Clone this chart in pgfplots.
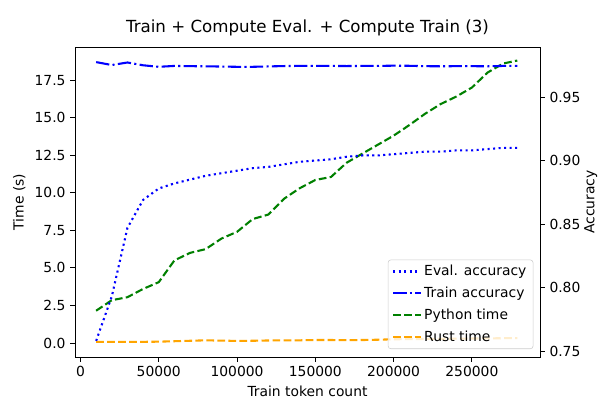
\documentclass[border=0pt]{standalone}
\usepackage{pgfplots}
\pgfplotsset{compat=1.18}
\usepackage{pgfplotstable}
\usepackage{fontspec}
\setmainfont{DejaVu Sans}
\definecolor{mplblue}{RGB}{0,0,255}
\definecolor{mplgreen}{RGB}{0,128,0}
\definecolor{mplorange}{RGB}{255,165,0}

\pgfplotstableread{
x acceval acctrain py rust
10000 0.758 0.9775 2.15 0.08
20000 0.793 0.9752 2.85 0.08
30000 0.847 0.9772 3.05 0.08
40000 0.869 0.9750 3.60 0.08
50000 0.878 0.9738 4.05 0.09
60000 0.882 0.9745 5.50 0.12
70000 0.885 0.9743 6.00 0.15
80000 0.888 0.9742 6.25 0.18
90000 0.890 0.9740 6.95 0.16
100000 0.892 0.9738 7.40 0.14
110000 0.894 0.9738 8.25 0.15
120000 0.895 0.9741 8.55 0.17
130000 0.897 0.9744 9.60 0.18
140000 0.899 0.9745 10.30 0.18
150000 0.900 0.9746 10.85 0.20
160000 0.901 0.9745 11.05 0.20
170000 0.903 0.9744 12.00 0.19
180000 0.904 0.9745 12.60 0.20
190000 0.904 0.9745 13.20 0.22
200000 0.905 0.9747 13.80 0.25
210000 0.906 0.9746 14.50 0.26
220000 0.907 0.9743 15.25 0.27
230000 0.907 0.9742 15.90 0.28
240000 0.908 0.9743 16.40 0.29
250000 0.908 0.9743 17.00 0.30
260000 0.909 0.9742 18.00 0.31
270000 0.910 0.9745 18.60 0.32
279000 0.910 0.9745 18.80 0.33
}\datatable

\pgfplotsset{
  common/.style={
    scale only axis, width=348.75pt, height=232.5pt,
    at={(0,0)}, anchor=south west,
    xmin=-3500, xmax=293500,
    tick align=outside, major tick length=3.6pt,
    tick style={black, line width=0.6pt},
    axis line style={line width=0.6pt},
    /pgf/number format/assume math mode=true,
    tick label style={font=\fontsize{10.4}{12}\selectfont},
    label style={font=\fontsize{10.4}{12}\selectfont},
    scaled ticks=false,
  },
  dotline/.style={line width=1.56pt, dash pattern=on 1.56pt off 2.57pt},
  dashline/.style={line width=1.56pt, dash pattern=on 5.77pt off 2.5pt},
  dashdotline/.style={line width=1.56pt, dash pattern=on 10pt off 2.5pt on 1.56pt off 2.5pt},
}

\begin{document}
\begin{tikzpicture}
\useasboundingbox (-56.25pt,-32.25pt) rectangle (393.75pt,267.75pt);
\begin{axis}[common,
  ymin=-0.93, ymax=19.7,
  xtick={0,50000,100000,150000,200000,250000},
  xticklabel style={/pgf/number format/.cd, fixed, set thousands separator={}},
  ytick={0,2.5,5,7.5,10,12.5,15,17.5},
  yticklabel style={/pgf/number format/.cd, fixed, fixed zerofill, precision=1},
  xtick pos=left, ytick pos=left,
  xlabel={Train token count}, ylabel={Time (s)},
  title={Train + Compute Eval. + Compute Train (3)},
  title style={font=\fontsize{12.5}{14}\selectfont, yshift=-1pt},
]
\addplot[mplgreen, dashline] table[x=x, y=py] {\datatable};
\addplot[mplorange, dashline] table[x=x, y=rust] {\datatable};
\end{axis}
\begin{axis}[common,
  ymin=0.7453, ymax=0.9894,
  axis x line=none, axis y line*=right,
  ytick={0.75,0.80,0.85,0.90,0.95},
  yticklabel style={/pgf/number format/.cd, fixed, fixed zerofill, precision=2},
  ylabel={Accuracy}, ylabel shift=-4pt,
  legend cell align=left,
  legend image code/.code={\draw[#1] (0pt,0pt) -- (20.5pt,0pt);},
  legend style={at={(1,0)}, anchor=south east, xshift=-5pt, yshift=6pt,
    draw=black!20, rounded corners=2pt, fill=white, fill opacity=0.8, text opacity=1,
    inner xsep=3pt, inner ysep=2pt,
    font=\fontsize{10.4}{12}\selectfont, row sep=3pt},
]
\addplot[mplblue, dotline] table[x=x, y=acceval] {\datatable};
\addlegendentry{Eval. accuracy}
\addplot[mplblue, dashdotline] table[x=x, y=acctrain] {\datatable};
\addlegendentry{Train accuracy}
\addlegendimage{mplgreen, dashline}
\addlegendentry{Python time}
\addlegendimage{mplorange, dashline}
\addlegendentry{Rust time}
\end{axis}
\end{tikzpicture}
\end{document}
